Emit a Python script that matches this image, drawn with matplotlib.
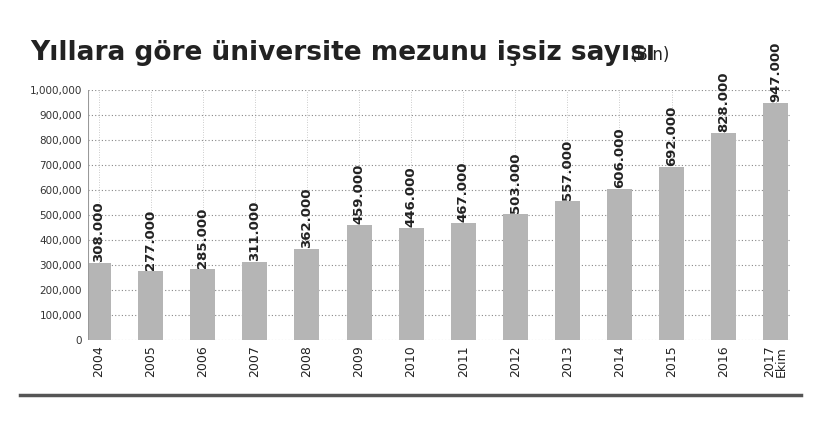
import matplotlib
matplotlib.use("Agg")
import matplotlib.pyplot as plt
from matplotlib.lines import Line2D

years = ["2004","2005","2006","2007","2008","2009","2010","2011","2012","2013","2014","2015","2016","2017\nEkim"]
values = [308000,277000,285000,311000,362000,459000,446000,467000,503000,557000,606000,692000,828000,947000]
yticks = list(range(0, 1000001, 100000))

fig = plt.figure(figsize=(8.27, 4.33), dpi=100)
ax = fig.add_axes([0.106, 0.215, 0.849, 0.577])
x = list(range(len(values)))
ax.bar(x, values, width=0.48, color="#b5b5b5", zorder=2)
ax.set_xlim(-0.21, 13.27)
ax.set_ylim(0, 1000000)
ax.set_yticks(yticks)
ax.set_yticklabels([f"{v:,}" for v in yticks], fontsize=7.5, color="#333333")
ax.set_xticks(x)
ax.set_xticklabels(years, rotation=90, fontsize=9, color="#222222", va="top", linespacing=0.9)
ax.tick_params(length=0, pad=4)
ax.grid(axis="y", linestyle=(0, (1, 2)), color="#888888", linewidth=0.8, zorder=0)
for xi in x:
    ax.axvline(xi, linestyle=(0, (1, 2)), color="#bbbbbb", linewidth=0.6, zorder=0)
for s in ax.spines.values():
    s.set_visible(False)
ax.axvline(-0.21, color="#999999", linewidth=0.8)
for xi, v in zip(x, values):
    ax.text(xi, v + 4000, f"{v:,}".replace(",", "."), rotation=90, ha="center", va="bottom",
            fontsize=9.5, fontweight="bold", color="#222222", clip_on=False)

fig.text(0.036, 0.878, "Yıllara göre üniversite mezunu işsiz sayısı", fontsize=19,
         fontweight="bold", color="#222222", va="center")
fig.text(0.762, 0.872, "(Bin)", fontsize=12, color="#222222", va="center")
fig.add_artist(Line2D([0.024, 0.968], [0.088, 0.088], color="#555555", linewidth=2.5))
fig.savefig("out.png", dpi=100, facecolor="white")
